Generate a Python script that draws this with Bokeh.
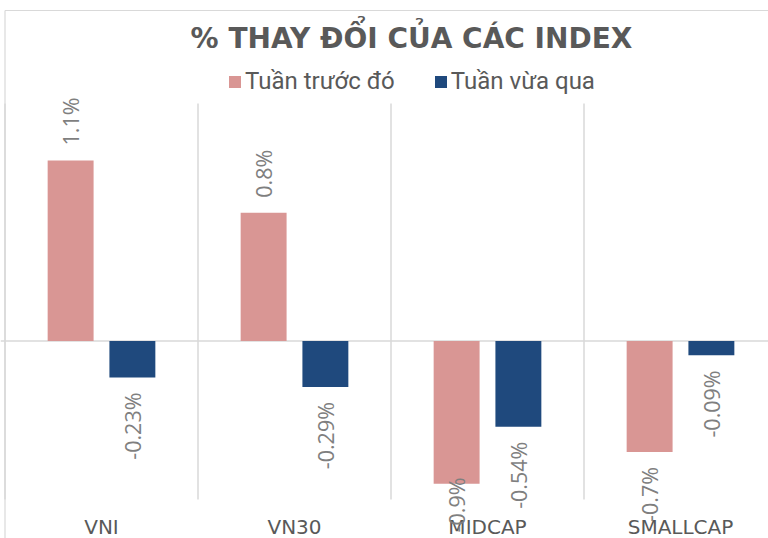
import math
from bokeh.plotting import figure
from bokeh.models import (ColumnDataSource, LabelSet, Label, Span, Legend, LegendItem)
from bokeh.core.properties import value
from bokeh.embed import file_html
from bokeh.resources import INLINE

# ---- data ----
categories = ["VNI", "VN30", "MIDCAP", "SMALLCAP"]
series_names = ["Tuần trước đó", "Tuần vừa qua"]
prev_week = [1.14, 0.81, -0.90, -0.70]
last_week = [-0.23, -0.29, -0.54, -0.09]
prev_labels = [f"{v:.1f}%" for v in prev_week]
last_labels = [f"{v:.2f}%" for v in last_week]
title_text = "% THAY ĐỔI CỦA CÁC INDEX"

PINK = "#D99694"
BLUE = "#1F497D"
GREY_TXT = "#595959"
LBL_TXT = "#7F7F7F"
GRID = "#D9D9D9"

# ---- layout (pixels) ----
W, H = 768, 538
Y0, Y1 = -1.0, 1.5            # value axis limits of the plot area
PLOT_TOP, PLOT_BOT = 103, 499  # plot area in pixels
CAT_W = 193                    # pixels per category
CAT0 = 101                     # centre of first category in pixels
PX = (PLOT_BOT - PLOT_TOP) / (Y1 - Y0)


def px2x(px):
    return (px - CAT0) / CAT_W


def py2y(py):
    return Y1 - (py - PLOT_TOP) / PX


p = figure(width=W, height=H, output_backend="svg", toolbar_location=None, title=None,
           x_range=(px2x(0), px2x(W)), y_range=(py2y(H), py2y(0)),
           min_border=0, min_border_left=0, min_border_right=0,
           min_border_top=0, min_border_bottom=0)
p.background_fill_color = "white"
p.border_fill_color = "white"
p.outline_line_color = None
p.xaxis.visible = False
p.yaxis.visible = False
p.xgrid.visible = False
p.ygrid.visible = False

n = len(categories)
idx = list(range(n))

# chart-area border (top and left edges)
p.segment(x0=[px2x(4.5), px2x(4.5)], y0=[py2y(10), py2y(10)],
          x1=[px2x(W), px2x(4.5)], y1=[py2y(10), py2y(H)],
          line_color=GRID, line_width=1.2, level="underlay")

# category separators
bounds = [i + 0.5 for i in range(-1, n)]
p.segment(x0=bounds, y0=[Y0] * len(bounds), x1=bounds, y1=[Y1] * len(bounds),
          line_color=GRID, line_width=1.5, level="underlay")

zero = Span(location=0, dimension="width", line_color=GRID, line_width=1.5, level="underlay")
p.add_layout(zero)

OFF = 0.16
BW = 0.238
src_prev = ColumnDataSource(dict(x=[i - OFF for i in idx], top=prev_week, lab=prev_labels))
src_last = ColumnDataSource(dict(x=[i + OFF for i in idx], top=last_week, lab=last_labels))

r1 = p.vbar(x="x", top="top", bottom=0, width=BW, source=src_prev, fill_color=PINK, line_color=None)
r2 = p.vbar(x="x", top="top", bottom=0, width=BW, source=src_last, fill_color=BLUE, line_color=None)

# data label placement (outside end, clamped to the chart bottom)
CHAR = 11.2
GAP = 15
LIMIT = 533 - (PLOT_TOP + Y1 * PX)  # px below zero line available


def add_labels(src, vals, labs):
    offs, aligns = [], []
    for v, t in zip(vals, labs):
        if v >= 0:
            offs.append(GAP)
            aligns.append("left")
        else:
            bar = -v * PX
            ln = len(t) * CHAR
            if bar + GAP + ln > LIMIT:
                offs.append(-(LIMIT - ln - bar))
            else:
                offs.append(-GAP)
            aligns.append("right")
    src.data["yo"] = offs
    src.data["al"] = aligns
    ls = LabelSet(x="x", y="top", text="lab", source=src, angle=math.pi / 2,
                  y_offset="yo", text_align="al", text_baseline="middle",
                  text_font=value("Open Sans"), text_font_size="21.5px",
                  text_color=LBL_TXT)
    p.add_layout(ls)


add_labels(src_prev, prev_week, prev_labels)
add_labels(src_last, last_week, last_labels)

# category labels
cat_src = ColumnDataSource(dict(x=idx, y=[Y0] * n, t=categories))
p.text(x="x", y="y", text="t", source=cat_src, y_offset=27,
       text_align="center", text_baseline="middle",
       text_font=value("DejaVu Sans"), text_font_size="20px", text_color=GREY_TXT)

legend = Legend(items=[LegendItem(label=series_names[0], renderers=[r1]),
                       LegendItem(label=series_names[1], renderers=[r2])],
                orientation="horizontal", location=(227, H - 95),
                glyph_width=15, glyph_height=15, label_standoff=3, spacing=38,
                label_text_font="Roboto", label_text_font_size="24px",
                label_text_color=GREY_TXT, padding=0, margin=0,
                border_line_color=None, background_fill_color=None)
p.add_layout(legend)

title = Label(x=px2x(411), y=py2y(37.5), text=title_text,
              text_align="center", text_baseline="middle",
              text_font="DejaVu Sans", text_font_style="bold",
              text_font_size="28px", text_color=GREY_TXT)
p.add_layout(title)

open("out.html", "w").write(file_html(p, INLINE))
